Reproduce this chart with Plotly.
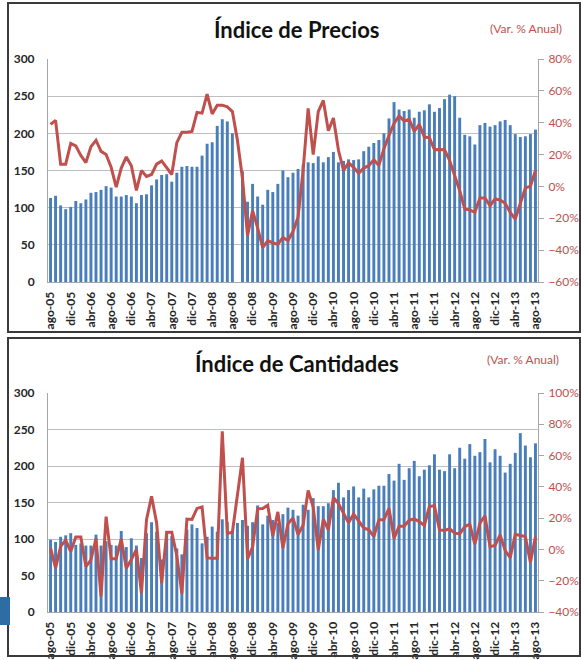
import plotly.graph_objects as go

# ---------------- data ----------------
months = [
    "ago-05", "sep-05", "oct-05", "nov-05", "dic-05",
    "ene-06", "feb-06", "mar-06", "abr-06", "may-06", "jun-06", "jul-06", "ago-06", "sep-06", "oct-06", "nov-06", "dic-06",
    "ene-07", "feb-07", "mar-07", "abr-07", "may-07", "jun-07", "jul-07", "ago-07", "sep-07", "oct-07", "nov-07", "dic-07",
    "ene-08", "feb-08", "mar-08", "abr-08", "may-08", "jun-08", "jul-08", "ago-08", "sep-08", "oct-08", "nov-08", "dic-08",
    "ene-09", "feb-09", "mar-09", "abr-09", "may-09", "jun-09", "jul-09", "ago-09", "sep-09", "oct-09", "nov-09", "dic-09",
    "ene-10", "feb-10", "mar-10", "abr-10", "may-10", "jun-10", "jul-10", "ago-10", "sep-10", "oct-10", "nov-10", "dic-10",
    "ene-11", "feb-11", "mar-11", "abr-11", "may-11", "jun-11", "jul-11", "ago-11", "sep-11", "oct-11", "nov-11", "dic-11",
    "ene-12", "feb-12", "mar-12", "abr-12", "may-12", "jun-12", "jul-12", "ago-12", "sep-12", "oct-12", "nov-12", "dic-12",
    "ene-13", "feb-13", "mar-13", "abr-13", "may-13", "jun-13", "jul-13", "ago-13",
]

tick_labels = [
    "ago-05", "dic-05", "abr-06", "ago-06", "dic-06", "abr-07", "ago-07", "dic-07",
    "abr-08", "ago-08", "dic-08", "abr-09", "ago-09", "dic-09", "abr-10", "ago-10",
    "dic-10", "abr-11", "ago-11", "dic-11", "abr-12", "ago-12", "dic-12", "abr-13", "ago-13",
]

precios_indice = [
    113, 116, 103, 98, 101, 109, 106, 111, 120, 121, 124, 129, 127, 115, 115, 117, 115,
    106, 117, 118, 130, 138, 144, 145, 135, 147, 155, 156, 155,
    155, 170, 186, 188, 210, 219, 216, 200, None, 149, 108, 132,
    115, 104, 124, 121, 132, 150, 141, 147, 152, 158, 161, 160,
    169, 161, 168, 175, 161, 163, 165, 164, 165, 176, 182, 187,
    191, 200, 220, 242, 232, 230, 232, 221, 229, 231, 239, 229,
    234, 246, 252, 250, 221, 198, 196, 185, 211, 214, 209, 211,
    216, 218, 211, 199, 195, 196, 199, 205,
]

precios_var = [
    39, 41.5, 14, 14, 27, 25.5, 19.5, 15, 25, 29, 22, 20, 12, -0.5, 11.5, 18.5, 13,
    -2.5, 10, 6.3, 7.5, 14, 16, 12, 7.5, 27.5, 34, 34, 34.5,
    46.5, 46, 58, 45.5, 51, 51, 50, 47, 29, 5, -31, -15.2,
    -26, -38.5, -34, -35.5, -36.3, -32, -34, -28.3, -19.3, 10, 49, 20,
    47, 54, 35, 43, 22.7, 10, 14.8, 12, 8.3, 11.5, 13, 16.7,
    13.2, 23.7, 32, 39.5, 44.3, 41, 42.2, 34.5, 39, 31, 30.6, 23,
    23.2, 23, 16.3, 7, -2.6, -14.2, -14.8, -16.3, -7.2, -7.2, -12.1, -7.9,
    -8.5, -10.6, -16.3, -20.5, -11, -0.9, 0.1, 10,
]

cantidades_indice = [
    99, 96, 103, 105, 108, 92, 94, 91, 91, 106, 91, 97, 92, 91, 111, 89, 101,
    91, 74, 108, 123, 110, 72, 110, 104, 87, 79, 113, 120,
    115, 94, 103, 117, 110, 127, 123, 110, 122, 126, 118, 123,
    146, 120, 132, 126, 122, 134, 143, 140, 132, 147, 140, 156,
    145, 145, 149, 167, 177, 157, 167, 172, 157, 169, 157, 168,
    173, 173, 189, 180, 203, 181, 197, 207, 186, 195, 201, 216,
    195, 193, 216, 197, 225, 210, 230, 214, 219, 237, 205, 223,
    214, 191, 203, 218, 245, 228, 212, 231,
]

cantidades_var = [
    1, -12, 2, 6, -1.4, 8, 8, -11, -6.7, 7, -30, 21, -6, -6, 6.7, -12, -6.5,
    0, -28, 19, 34, 17, -21.5, 11, 11, -4, -28.2, 19.4, 19.2,
    26.2, 27.2, -5.4, -5.6, -5.6, 75.5, 10.2, 11, 36, 58.6, -6, 1.5,
    26, 26.2, 28.2, 8.5, 24, 0.8, 16.5, 20, 9.5, 15.5, 37.7, 27,
    -0.3, 19.3, 12.5, 33.2, 29.3, 23.1, 17, 22.6, 18.5, 13.7, 12.5, 8.3,
    18.9, 18.9, 26.3, 7.1, 14.8, 14.8, 18.7, 19.5, 17.8, 15.3, 27.4, 27.9,
    12.5, 12.1, 13.2, 10.4, 10, 14.6, 16.1, 3.3, 16.8, 21.5, 1.8, 2.5,
    9.3, -0.7, -5.2, 9.7, 8.9, 8.2, -8.4, 8.2,
]

# ---------------- styling ----------------
W, H = 581, 660
BAR_COLOR = "#4A7EBB"
LINE_COLOR = "#C0504D"
GRID = "#BFBFBF"
AXIS = "#A6A6A6"
FONT = "Lato"


def px(x):
    return x / W


def py(y):
    return 1 - y / H


x_dom = [px(48), px(538)]
top_dom = [py(282), py(59)]
bot_dom = [py(612), py(393)]

fig = go.Figure()
fig.add_trace(go.Bar(x=months, y=precios_indice, marker=dict(color=BAR_COLOR, line=dict(width=0)),
                     xaxis="x", yaxis="y", showlegend=False))
fig.add_trace(go.Scatter(x=months, y=precios_var, mode="lines", line=dict(color=LINE_COLOR, width=3),
                         xaxis="x", yaxis="y2", showlegend=False, connectgaps=True))
fig.add_trace(go.Bar(x=months, y=cantidades_indice, marker=dict(color=BAR_COLOR, line=dict(width=0)),
                     xaxis="x2", yaxis="y3", showlegend=False))
fig.add_trace(go.Scatter(x=months, y=cantidades_var, mode="lines", line=dict(color=LINE_COLOR, width=3),
                         xaxis="x2", yaxis="y4", showlegend=False))

xcommon = dict(type="category", categoryorder="array", categoryarray=months, range=[-0.5, len(months) - 0.5],
               tickmode="array", tickvals=tick_labels, ticktext=tick_labels, tickangle=-90,
               showline=True, linecolor=AXIS, linewidth=1, showgrid=False, ticks="", automargin=False,
               tickfont=dict(family=FONT, size=12, color="#262626", weight="bold"), ticklabelstandoff=4)
yleft = dict(range=[0, 300], dtick=50, showgrid=True, gridcolor=GRID, gridwidth=1, automargin=False,
             showline=True, linecolor=AXIS, zeroline=False, ticks="",
             tickfont=dict(family=FONT, size=12, color="#262626", weight="bold"), ticklabelstandoff=10)
yright = dict(side="right", showgrid=False, zeroline=False, ticksuffix="%", dtick=20, automargin=False,
              showline=True, linecolor=AXIS, ticks="outside", ticklen=5, tickcolor=AXIS,
              tickfont=dict(family=FONT, size=12, color=LINE_COLOR), ticklabelstandoff=2)

fig.update_layout(
    width=W, height=H, margin=dict(l=0, r=0, t=0, b=0, autoexpand=False),
    paper_bgcolor="white", plot_bgcolor="white",
    bargap=0.42, showlegend=False,
    xaxis=dict(domain=x_dom, anchor="y", **xcommon),
    yaxis=dict(domain=top_dom, anchor="x", **yleft),
    yaxis2=dict(overlaying="y", anchor="x", range=[-60, 80], **yright),
    xaxis2=dict(domain=x_dom, anchor="y3", **xcommon),
    yaxis3=dict(domain=bot_dom, anchor="x2", **yleft),
    yaxis4=dict(overlaying="y3", anchor="x2", range=[-40, 100], **yright),
)

annotations = [
    dict(text="<b>Índice de Precios</b>", x=px(297), y=py(30), font=dict(family=FONT, size=22, color="#111111")),
    dict(text="(Var. % Anual)", x=px(526), y=py(28), font=dict(family=FONT, size=12, color=LINE_COLOR)),
    dict(text="<b>Índice de Cantidades</b>", x=px(297), y=py(363), font=dict(family=FONT, size=22, color="#111111")),
    dict(text="(Var. % Anual)", x=px(523), y=py(359), font=dict(family=FONT, size=12, color=LINE_COLOR)),
]
for a in annotations:
    a.update(xref="paper", yref="paper", showarrow=False, xanchor="center", yanchor="middle")
fig.update_layout(annotations=annotations)

shapes = [
    dict(type="rect", x0=px(8), x1=px(580), y0=py(332), y1=py(3), line=dict(color="#3A3A3A", width=2)),
    dict(type="rect", x0=px(8), x1=px(580), y0=py(656), y1=py(338), line=dict(color="#3A3A3A", width=2)),
    dict(type="rect", x0=px(0), x1=px(10), y0=py(625), y1=py(597), line=dict(width=0), fillcolor="#2E6DA4"),
]
for s in shapes:
    s.update(xref="paper", yref="paper", layer="above")
fig.update_layout(shapes=shapes)

fig.write_html(
    "out.html",
    config={"displayModeBar": False},
    post_script="document.body.style.margin='0';document.body.style.padding='0';"
                "document.documentElement.style.overflow='hidden';",
)
